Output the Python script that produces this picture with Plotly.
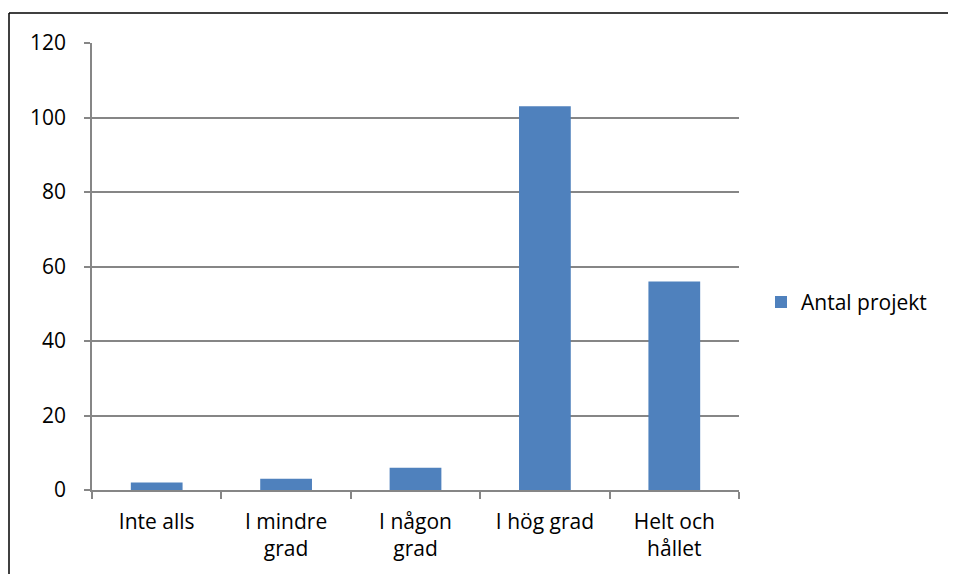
import plotly.graph_objects as go

categories = ["Inte alls", "I mindre<br>grad", "I någon<br>grad", "I hög grad", "Helt och<br>hållet"]
values = [2, 3, 6, 103, 56]
series_name = "Antal projekt"
y_ticks = [0, 20, 40, 60, 80, 100, 120]

BAR = "#4F81BD"
AXIS = "#868686"
FONT = dict(family="Open Sans, Lato, sans-serif", size=21, color="#000000")

# page has an 8px body margin, so the figure is sized to fit inside it
fig = go.Figure()
fig.add_trace(
    go.Bar(
        x=categories,
        y=values,
        name=series_name,
        marker=dict(color=BAR, line=dict(width=0)),
        showlegend=True,
    )
)

fig.update_layout(
    width=941,
    height=567,
    paper_bgcolor="white",
    plot_bgcolor="white",
    font=FONT,
    bargap=0.6,
    margin=dict(l=84, r=210, t=35, b=85),
    showlegend=True,
    legend=dict(
        x=1.034,
        y=0.42,
        xanchor="left",
        yanchor="middle",
        font=dict(size=21),
        itemwidth=30,
        bgcolor="rgba(0,0,0,0)",
    ),
    xaxis=dict(
        showline=True,
        linecolor=AXIS,
        linewidth=1.5,
        ticks="outside",
        tickson="boundaries",
        ticklen=7,
        tickcolor=AXIS,
        tickwidth=1.5,
        showgrid=False,
        tickfont=FONT,
        ticklabelstandoff=12,
    ),
    yaxis=dict(
        range=[0, 120],
        tickvals=y_ticks,
        showline=True,
        linecolor=AXIS,
        linewidth=1.5,
        ticks="outside",
        ticklen=6,
        tickcolor=AXIS,
        tickwidth=1.5,
        showgrid=True,
        gridcolor=AXIS,
        gridwidth=1.5,
        zeroline=False,
        tickfont=FONT,
        ticklabelstandoff=14,
    ),
)

# outer chart frame: only top and left edges are visible in the view
frame = dict(color="black", width=1.5)
fig.add_shape(type="line", xref="paper", yref="paper",
              x0=-83 / 647, x1=1 + 209 / 647, y0=1 + 30 / 447, y1=1 + 30 / 447,
              line=frame, layer="below")
fig.add_shape(type="line", xref="paper", yref="paper",
              x0=-83 / 647, x1=-83 / 647, y0=1 + 30 / 447, y1=-84 / 447,
              line=frame, layer="below")

fig.write_html("out.html")
